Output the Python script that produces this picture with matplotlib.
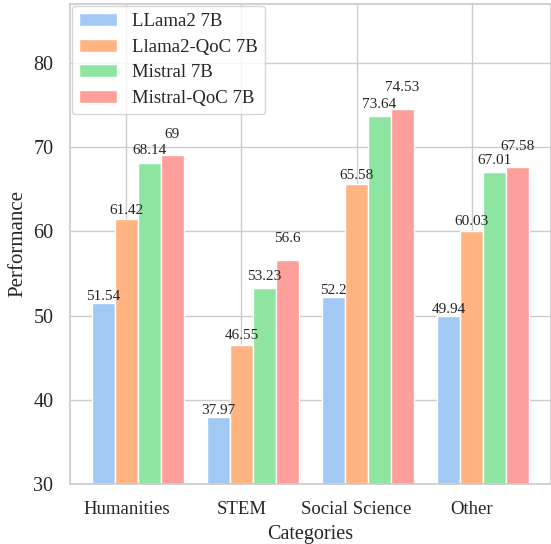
import numpy as np
import matplotlib
matplotlib.use("Agg")
import matplotlib.pyplot as plt
import seaborn as sns

categories = ["Humanities", "STEM", "Social Science", "Other"]
models = ["LLama2 7B", "Llama2-QoC 7B", "Mistral 7B", "Mistral-QoC 7B"]
llama2 = [51.54, 37.97, 52.2, 49.94]
llama2_qoc = [61.42, 46.55, 65.58, 60.03]
mistral = [68.14, 53.23, 73.64, 67.01]
mistral_qoc = [69, 56.6, 74.53, 67.58]


def main():
    sns.set_theme(style="whitegrid", palette="pastel")
    plt.rcParams["font.family"] = ["Liberation Serif", "DejaVu Serif"]
    colors = sns.color_palette("pastel")

    fig = plt.figure(figsize=(5.51, 5.44), dpi=100)
    ax = fig.add_axes([0.127, 0.110, 0.873, 0.883])

    width = 0.2
    r = np.arange(len(categories))
    series = [llama2, llama2_qoc, mistral, mistral_qoc]
    offsets = [0, 2, 4, 10.5]  # label offsets in points, staggered
    for i, (name, vals) in enumerate(zip(models, series)):
        xs = r + i * width
        bars = ax.bar(xs, vals, width, label=name, color=colors[i],
                      edgecolor="white", linewidth=1)
        for b, v in zip(bars, vals):
            ax.annotate(f"{v:g}", (b.get_x() + b.get_width() / 2, v),
                        xytext=(0, offsets[i]), textcoords="offset points",
                        ha="center", va="bottom", fontsize=11, color="#262626")

    ax.set_ylim(30, 87)
    ax.set_xticks(r + width)
    ax.set_xticklabels(categories, fontsize=13.5)
    ax.tick_params(axis="x", pad=6)
    ax.tick_params(axis="y", labelsize=14.5, pad=6)
    ax.set_xlabel("Categories", fontsize=14.5, labelpad=5)
    ax.set_ylabel("Performance", fontsize=15)
    ax.legend(loc="upper left", fontsize=13.5, borderaxespad=0.1,
              labelspacing=0.45)

    fig.savefig("out.png", dpi=100)


if __name__ == "__main__":
    main()
